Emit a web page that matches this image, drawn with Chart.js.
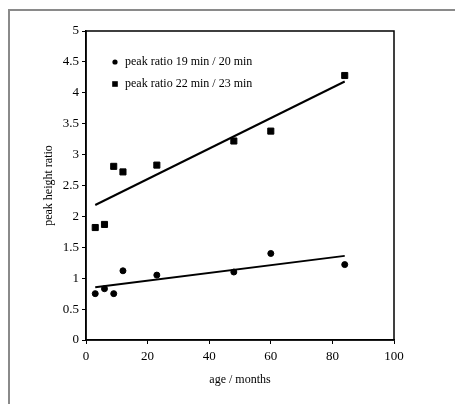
<!DOCTYPE html>
<html>
<head>
<meta charset="utf-8">
<script src="https://cdn.jsdelivr.net/npm/chart.js@4"></script>
<style>
  html, body { margin: 0; padding: 0; background: #fff; }
  .wrap { position: relative; width: 455px; height: 404px; }
  .frame { position: absolute; left: 8px; top: 9px; right: 0; bottom: 0;
           border-top: 2px solid #8a8a8a; border-left: 2px solid #8a8a8a; }
  canvas { position: absolute; left: 0; top: 0; }
</style>
</head>
<body>
<div class="wrap">
  <div class="frame"></div>
  <canvas id="chart" width="455" height="404"></canvas>
</div>
<script>
// --- data ---
const ageMonths = [3, 6, 9, 12, 23, 48, 60, 84];
const ratio19_20 = [0.75, 0.83, 0.75, 1.12, 1.05, 1.10, 1.40, 1.22];
const ratio22_23 = [1.82, 1.87, 2.81, 2.72, 2.83, 3.22, 3.38, 4.28];
const seriesLabels = ['peak ratio 19 min / 20 min', 'peak ratio 22 min / 23 min'];
const xTicks = [0, 20, 40, 60, 80, 100];
const yTicks = [0, 0.5, 1, 1.5, 2, 2.5, 3, 3.5, 4, 4.5, 5];

const FONT = '"Liberation Serif", "DejaVu Serif", serif';

// least-squares trendline, like the spreadsheet one
function trend(xs, ys) {
    const n = xs.length;
    const mx = xs.reduce((a, b) => a + b, 0) / n;
    const my = ys.reduce((a, b) => a + b, 0) / n;
    let sxy = 0, sxx = 0;
    xs.forEach((x, i) => { sxy += (x - mx) * (ys[i] - my); sxx += (x - mx) * (x - mx); });
    const k = sxy / sxx, b = my - k * mx;
    const x0 = xs[0], x1 = xs[n - 1];
    return [{ x: x0, y: k * x0 + b }, { x: x1, y: k * x1 + b }];
}

const pts = (ys) => ageMonths.map((x, i) => ({ x: x, y: ys[i] }));

// plot frame + in-plot legend
const framePlugin = {
    id: 'framePlugin',
    afterDraw(chart) {
        const { ctx, chartArea: a } = chart;
        ctx.save();
        ctx.strokeStyle = '#000';
        ctx.lineWidth = 1.5;
        ctx.strokeRect(a.left, a.top, a.right - a.left, a.bottom - a.top);

        ctx.fillStyle = '#000';
        ctx.font = '12px ' + FONT;
        ctx.textBaseline = 'middle';
        const lx = 115, tx = 125;
        // circle marker
        ctx.beginPath();
        ctx.arc(lx, 62, 2.6, 0, Math.PI * 2);
        ctx.fill();
        ctx.fillText(seriesLabels[0], tx, 62);
        // square marker
        ctx.fillRect(lx - 2.8, 84 - 2.8, 5.6, 5.6);
        ctx.fillText(seriesLabels[1], tx, 84);
        ctx.restore();
    }
};

new Chart(document.getElementById('chart'), {
    type: 'scatter',
    data: {
        datasets: [
            {
                label: seriesLabels[0],
                data: pts(ratio19_20),
                backgroundColor: '#000',
                borderColor: '#000',
                pointStyle: 'circle',
                pointRadius: 3
            },
            {
                label: seriesLabels[1],
                data: pts(ratio22_23),
                backgroundColor: '#000',
                borderColor: '#000',
                pointStyle: 'rect',
                pointRadius: 4.3
            },
            {
                type: 'line',
                data: trend(ageMonths, ratio19_20),
                borderColor: '#000',
                borderWidth: 2,
                pointRadius: 0,
                fill: false
            },
            {
                type: 'line',
                data: trend(ageMonths, ratio22_23),
                borderColor: '#000',
                borderWidth: 2,
                pointRadius: 0,
                fill: false
            }
        ]
    },
    options: {
        responsive: false,
        animation: false,
        layout: { padding: { left: 42, right: 61, top: 31, bottom: 17 } },
        plugins: {
            legend: { display: false },
            tooltip: { enabled: false }
        },
        scales: {
            x: {
                type: 'linear',
                min: 0, max: 100,
                afterBuildTicks: (s) => { s.ticks = xTicks.map(v => ({ value: v })); },
                afterFit: (s) => { s.height = 47; },
                grid: { drawOnChartArea: false, tickLength: 4, color: '#000', lineWidth: 1 },
                border: { display: true, color: '#000', width: 1.5 },
                ticks: { color: '#000', font: { family: FONT, size: 13 }, padding: 5, maxRotation: 0,
                         callback: (v) => String(v) },
                title: { display: true, text: 'age / months', color: '#000',
                         font: { family: FONT, size: 12 }, padding: { top: 1, bottom: 0 } }
            },
            y: {
                type: 'linear',
                min: 0, max: 5,
                afterBuildTicks: (s) => { s.ticks = yTicks.map(v => ({ value: v })); },
                afterFit: (s) => { s.width = 44; },
                grid: { drawOnChartArea: false, tickLength: 4, color: '#000', lineWidth: 1 },
                border: { display: true, color: '#000', width: 1.5 },
                ticks: { color: '#000', font: { family: FONT, size: 13 }, padding: 3,
                         callback: (v) => String(v) },
                title: { display: true, text: 'peak height ratio', color: '#000',
                         font: { family: FONT, size: 12 }, padding: 0 }
            }
        }
    },
    plugins: [framePlugin]
});
</script>
</body>
</html>
